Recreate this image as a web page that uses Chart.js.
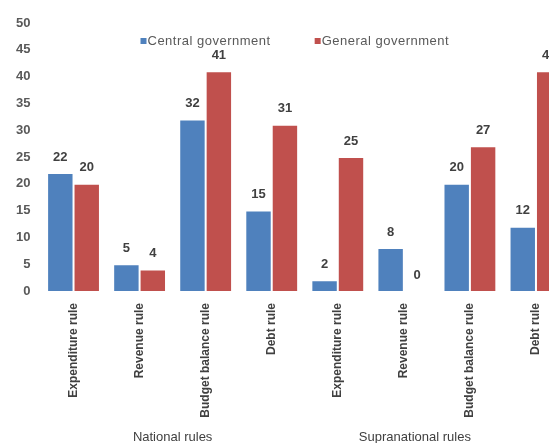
<!DOCTYPE html>
<html>
<head>
<meta charset="utf-8">
<script src="https://cdn.jsdelivr.net/npm/chart.js@4.4.1/dist/chart.umd.min.js"></script>
<style>
  html, body { margin: 0; padding: 0; overflow: hidden; background: #fff; }
  #wrap { position: relative; width: 569px; height: 450px; }
</style>
</head>
<body>
<div id="wrap"><canvas id="rulesChart"></canvas></div>
<script>
const categories = ['Expenditure rule', 'Revenue rule', 'Budget balance rule', 'Debt rule',
                    'Expenditure rule', 'Revenue rule', 'Budget balance rule', 'Debt rule'];
const centralGov = [22, 5, 32, 15, 2, 8, 20, 12];
const generalGov = [20, 4, 41, 31, 25, 0, 27, 41];
const groups = ['National rules', 'Supranational rules'];
const groupSize = 4;
const yTicks = [0, 5, 10, 15, 20, 25, 30, 35, 40, 45, 50];

const FONT = "'Liberation Sans', 'DejaVu Sans', sans-serif";
const TEXT = '#595959';

// numbers above bars, custom legend and group labels
const extras = {
  id: 'extras',
  afterDatasetsDraw(chart) {
    const ctx = chart.ctx;
    ctx.save();
    ctx.font = 'bold 13px ' + FONT;
    ctx.fillStyle = '#404040';
    ctx.textAlign = 'center';
    ctx.textBaseline = 'middle';
    chart.data.datasets.forEach((ds, i) => {
      chart.getDatasetMeta(i).data.forEach((bar, j) => {
        ctx.fillText(ds.data[j], bar.x, bar.y - 16);
      });
    });

    // legend
    const area = chart.chartArea;
    ctx.font = '13px ' + FONT;
    ctx.letterSpacing = '0.5px';
    ctx.textAlign = 'left';
    let x = area.left + 100;
    const y = 41;
    chart.data.datasets.forEach(ds => {
      ctx.fillStyle = ds.backgroundColor;
      ctx.fillRect(x, y - 3, 6, 6);
      ctx.fillStyle = TEXT;
      ctx.fillText(ds.label, x + 7, y);
      x += 7 + ctx.measureText(ds.label).width + 44;
    });

    // group labels under the category labels (centred on the visible part)
    const xs = chart.scales.x;
    ctx.fillStyle = '#404040';
    ctx.textAlign = 'center';
    ctx.letterSpacing = '0px';
    const half = (xs.getPixelForValue(1) - xs.getPixelForValue(0)) / 2;
    groups.forEach((g, k) => {
      const a = xs.getPixelForValue(k * groupSize) - half;
      const b = Math.min(xs.getPixelForValue(k * groupSize + groupSize - 1) + half, 525);
      ctx.fillText(g, (a + b) / 2, 437);
    });
    ctx.restore();
  }
};

const ctx = document.getElementById('rulesChart').getContext('2d');
const chart = new Chart(ctx, {
  type: 'bar',
  data: {
    labels: categories,
    datasets: [{
      label: 'Central government',
      data: centralGov,
      backgroundColor: '#4F81BD',
      borderColor: 'rgba(255, 255, 255, 0.5)',
      borderWidth: 1
    }, {
      label: 'General government',
      data: generalGov,
      backgroundColor: '#C0504D',
      borderColor: 'rgba(255, 255, 255, 0.5)',
      borderWidth: 1
    }]
  },
  options: {
    responsive: true,
    maintainAspectRatio: false,
    animation: false,
    layout: {
      padding: { top: 23, right: 0, bottom: 0, left: 0 }
    },
    datasets: {
      bar: { categoryPercentage: 0.8, barPercentage: 1.0 }
    },
    scales: {
      y: {
        min: 0,
        max: 50,
        afterBuildTicks: scale => { scale.ticks = yTicks.map(v => ({ value: v })); },
        afterFit: scale => { scale.width = 40.5; },
        grid: { display: false, drawTicks: false },
        border: { display: false },
        ticks: {
          color: TEXT,
          padding: 10,
          font: { family: FONT, size: 13, weight: 'bold' }
        }
      },
      x: {
        afterFit: scale => { scale.height = 159; },
        grid: { display: false, drawTicks: false },
        border: { display: false },
        ticks: {
          color: '#404040',
          autoSkip: false,
          maxRotation: 90,
          minRotation: 90,
          padding: 12,
          font: { family: FONT, size: 12, weight: 'bold' }
        }
      }
    },
    plugins: {
      legend: { display: false },
      tooltip: { enabled: false }
    }
  },
  plugins: [extras]
});
</script>
</body>
</html>
